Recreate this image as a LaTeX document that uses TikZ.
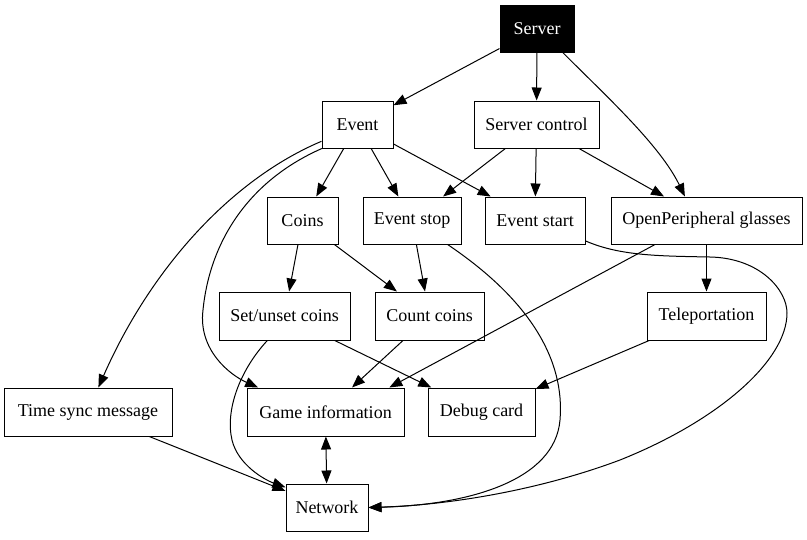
\documentclass[tikz,border=0pt]{standalone}
\usepackage{fontspec}
\setmainfont{Liberation Serif}
\usetikzlibrary{arrows.meta}
\begin{document}
\begin{tikzpicture}[x=1pt,y=-1pt,
  box/.style={draw=black,line width=1pt,rectangle,inner sep=0pt,minimum height=47pt,font=\fontsize{18}{22}\selectfont},
  edge/.style={line width=1pt,-{Triangle[length=13pt,width=10pt]}},
  bedge/.style={line width=1pt,{Triangle[length=13pt,width=10pt]}-{Triangle[length=13pt,width=10pt]}}]
\useasboundingbox (0,0) rectangle (807,539);
\node[box,fill=black,text=white,minimum width=74pt] (server) at (537,28.5) {Server};
\node[box,minimum width=71pt] (event) at (357.5,124.5) {Event};
\node[box,minimum width=125pt] (sctl) at (536.5,124.5) {Server control};
\node[box,minimum width=71pt] (coins) at (302.5,220.5) {Coins};
\node[box,minimum width=98pt] (evstop) at (412,220.5) {Event stop};
\node[box,minimum width=100pt] (evstart) at (535,220.5) {Event start};
\node[box,minimum width=191pt] (opg) at (706.5,220.5) {OpenPeripheral glasses};
\node[box,minimum width=131pt,minimum height=48pt] (setun) at (284.5,316) {Set/unset coins};
\node[box,minimum width=109pt,minimum height=48pt] (count) at (429.5,316) {Count coins};
\node[box,minimum width=119pt,minimum height=48pt] (tele) at (706.5,316) {Teleportation};
\node[box,minimum width=168pt,minimum height=48pt] (tsync) at (88,412) {Time sync message};
\node[box,minimum width=157pt,minimum height=48pt] (game) at (325.5,412) {Game information};
\node[box,minimum width=107pt,minimum height=48pt] (debug) at (481.5,412) {Debug card};
\node[box,minimum width=82pt] (net) at (327,507.5) {Network};
% straight edges
\draw[edge] (server) -- (event);
\draw[edge] (server) -- (sctl);
\draw[edge] (event) -- (coins);
\draw[edge] (event) -- (evstop);
\draw[edge] (event) -- (evstart);
\draw[edge] (sctl) -- (evstop);
\draw[edge] (sctl) -- (evstart);
\draw[edge] (sctl) -- (opg);
\draw[edge] (coins) -- (setun);
\draw[edge] (coins) -- (count);
\draw[edge] (evstop) -- (count);
\draw[edge] (opg) -- (tele);
\draw[edge] (opg.-155) -- (game.21);
\draw[edge] (setun) -- (debug);
\draw[edge] (count) -- (game);
\draw[edge] (tele) -- (debug);
\draw[edge] (tsync) -- (net);
\draw[bedge] (game) -- (net);
% curved edges
\draw[edge] (server.-43) .. controls (605,95) and (660,145) .. (opg.132);
\draw[edge] (event.-155) .. controls (230,180) and (150,270) .. (tsync.67);
\draw[edge] (event.-146) .. controls (250,180) and (210,240) .. (203,310) .. controls (198,350) and (230,375) .. (game.160);
\draw[edge] (setun.-125) .. controls (240,370) and (225,410) .. (232,440) .. controls (238,465) and (265,480) .. (net.154);
\draw[edge] (evstop.-34) .. controls (530,300) and (565,360) .. (560,420) .. controls (555,480) and (470,505) .. (net.east);
\draw[edge] (evstart.-22) .. controls (620,256) and (660,256) .. (710,257) .. controls (760,258) and (787,290) .. (787,313) .. controls (787,360) and (720,420) .. (620,460) .. controls (540,490) and (450,505) .. (net.east);
\end{tikzpicture}
\end{document}
